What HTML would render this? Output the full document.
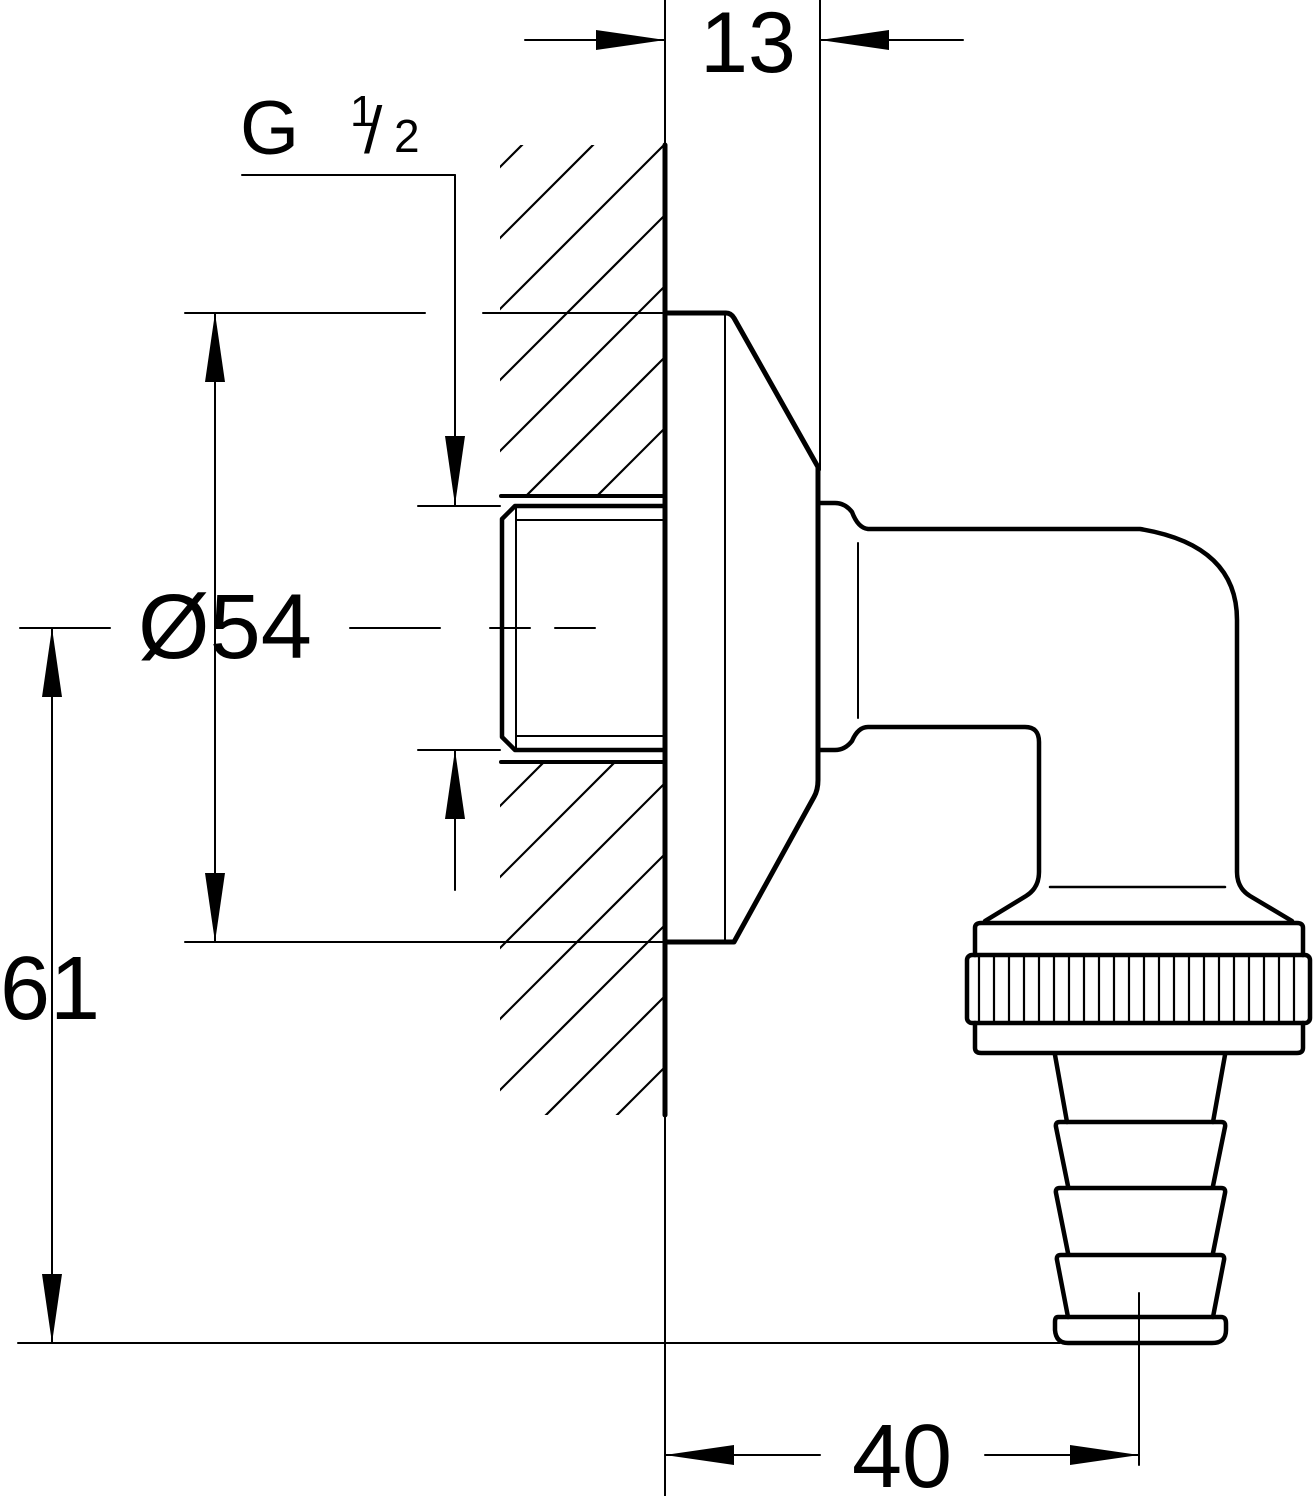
<!DOCTYPE html>
<html><head><style>html,body{margin:0;padding:0;background:#fff}svg{display:block}</style></head>
<body>
<svg width="1315" height="1496" viewBox="0 0 1315 1496" xmlns="http://www.w3.org/2000/svg" font-family="Liberation Sans, Arial, sans-serif">
<defs>
<clipPath id="hc"><path d="M500 145 H663 V496 H500 Z M500 762 H663 V1115 H500 Z"/></clipPath>
</defs>
<g stroke="#000" fill="none" stroke-linecap="round" stroke-linejoin="round">
<g clip-path="url(#hc)" stroke-width="2.2">
<line x1="400" y1="267" x2="700" y2="-33"/>
<line x1="400" y1="338" x2="700" y2="38"/>
<line x1="400" y1="409" x2="700" y2="109"/>
<line x1="400" y1="480" x2="700" y2="180"/>
<line x1="400" y1="551" x2="700" y2="251"/>
<line x1="400" y1="622" x2="700" y2="322"/>
<line x1="400" y1="693" x2="700" y2="393"/>
<line x1="400" y1="764" x2="700" y2="464"/>
<line x1="400" y1="835" x2="700" y2="535"/>
<line x1="400" y1="906" x2="700" y2="606"/>
<line x1="400" y1="977" x2="700" y2="677"/>
<line x1="400" y1="1048" x2="700" y2="748"/>
<line x1="400" y1="1119" x2="700" y2="819"/>
<line x1="400" y1="1190" x2="700" y2="890"/>
<line x1="400" y1="1261" x2="700" y2="961"/>
<line x1="400" y1="1332" x2="700" y2="1032"/>
<line x1="400" y1="1403" x2="700" y2="1103"/>
</g>
<line x1="665" y1="145" x2="665" y2="1115" stroke-width="5"/>
<line x1="665" y1="0" x2="665" y2="1496" stroke-width="2"/>
<line x1="820" y1="0" x2="820" y2="470" stroke-width="2"/>
<path d="M665 313 H726 Q731 313 734 318 L818 467 V780 Q818 790 814 797 L734 942 H665" stroke-width="5"/>
<line x1="725" y1="313" x2="725" y2="942" stroke-width="2"/>
<line x1="501" y1="496" x2="665" y2="496" stroke-width="4"/>
<line x1="501" y1="762" x2="665" y2="762" stroke-width="4"/>
<path d="M665 506 H515 L502 519 V737 L515 750 H665" stroke-width="4.5"/>
<line x1="516" y1="506" x2="516" y2="750" stroke-width="2"/>
<line x1="516" y1="520" x2="665" y2="520" stroke-width="2"/>
<line x1="516" y1="736" x2="665" y2="736" stroke-width="2"/>
<path d="M820 503 H835 Q845 503 852 512 Q858 528 868 529 H1140 Q1237 545 1237 620 V872 Q1237 888 1250 896 L1292 921" stroke-width="4.5"/>
<path d="M820 750 H835 Q845 750 852 741 Q858 727 868 727 H1025 Q1039 727 1039 742 V872 Q1039 888 1026 896 L985 921" stroke-width="4.5"/>
<line x1="858" y1="543" x2="858" y2="718" stroke-width="2"/>
<line x1="1050" y1="887" x2="1225" y2="887" stroke-width="2.5"/>
<path d="M975 955 V928 Q975 923 981 923 H1297 Q1303 923 1303 928 V955" stroke-width="4.5"/>
<path d="M975 1023 V1048 Q975 1053 981 1053 H1297 Q1303 1053 1303 1048 V1023" stroke-width="4.5"/>
<rect x="967" y="955" width="343" height="68" rx="5" stroke-width="4.5"/>
<g stroke-width="2.2">
<line x1="979" y1="955" x2="979" y2="1023"/><line x1="994" y1="955" x2="994" y2="1023"/><line x1="1009" y1="955" x2="1009" y2="1023"/><line x1="1024" y1="955" x2="1024" y2="1023"/><line x1="1039" y1="955" x2="1039" y2="1023"/><line x1="1054" y1="955" x2="1054" y2="1023"/><line x1="1069" y1="955" x2="1069" y2="1023"/><line x1="1084" y1="955" x2="1084" y2="1023"/><line x1="1099" y1="955" x2="1099" y2="1023"/><line x1="1114" y1="955" x2="1114" y2="1023"/><line x1="1129" y1="955" x2="1129" y2="1023"/><line x1="1144" y1="955" x2="1144" y2="1023"/><line x1="1159" y1="955" x2="1159" y2="1023"/><line x1="1174" y1="955" x2="1174" y2="1023"/><line x1="1189" y1="955" x2="1189" y2="1023"/><line x1="1204" y1="955" x2="1204" y2="1023"/><line x1="1219" y1="955" x2="1219" y2="1023"/><line x1="1234" y1="955" x2="1234" y2="1023"/><line x1="1249" y1="955" x2="1249" y2="1023"/><line x1="1264" y1="955" x2="1264" y2="1023"/><line x1="1279" y1="955" x2="1279" y2="1023"/><line x1="1294" y1="955" x2="1294" y2="1023"/>
</g>
<path d="M1055 1055 L1067 1122 M1225 1055 L1213 1122" stroke-width="4.5"/>
<path d="M1068 1186 L1056 1127 Q1055 1122 1060 1122 H1221 Q1226 1122 1225 1127 L1213 1186" stroke-width="4.5"/>
<path d="M1068 1253 L1056 1193 Q1055 1188 1060 1188 H1221 Q1226 1188 1225 1193 L1213 1253" stroke-width="4.5"/>
<path d="M1068 1317 L1057 1260 Q1056 1255 1061 1255 H1220 Q1225 1255 1224 1260 L1213 1317" stroke-width="4.5"/>
<path d="M1058 1317 H1221 Q1226 1317 1226 1323 V1330 Q1226 1343 1212 1343 H1068 Q1056 1343 1055 1330 V1322 Q1055 1317 1058 1317 Z" stroke-width="4.5"/>
<line x1="1139" y1="1293" x2="1139" y2="1465" stroke-width="2"/>
<g stroke-width="2">
<line x1="18" y1="1343" x2="1060" y2="1343"/>
<line x1="185" y1="313" x2="425" y2="313"/><line x1="483" y1="313" x2="665" y2="313"/>
<line x1="185" y1="942" x2="665" y2="942"/>
<line x1="215" y1="313" x2="215" y2="942"/>
<line x1="52" y1="628" x2="52" y2="1343"/>
<line x1="20" y1="628" x2="110" y2="628"/><line x1="350" y1="628" x2="440" y2="628"/><line x1="490" y1="628" x2="530" y2="628"/><line x1="555" y1="628" x2="595" y2="628"/>
<line x1="242" y1="175" x2="455" y2="175"/><line x1="455" y1="175" x2="455" y2="505"/>
<line x1="418" y1="506" x2="500" y2="506"/><line x1="418" y1="750" x2="500" y2="750"/>
<line x1="455" y1="750" x2="455" y2="890"/>
<line x1="525" y1="40" x2="665" y2="40"/><line x1="820" y1="40" x2="963" y2="40"/>
<line x1="665" y1="1455" x2="820" y2="1455"/><line x1="985" y1="1455" x2="1139" y2="1455"/>
</g>
</g>
<g fill="#000">
<polygon points="215,313 205,382 225,382"/>
<polygon points="215,942 205,873 225,873"/>
<polygon points="52,628 42,697 62,697"/>
<polygon points="52,1343 42,1274 62,1274"/>
<polygon points="455,505 445,436 465,436"/>
<polygon points="455,750 445,819 465,819"/>
<polygon points="665,40 596,30 596,50"/>
<polygon points="820,40 889,30 889,50"/>
<polygon points="665,1455 734,1445 734,1465"/>
<polygon points="1139,1455 1070,1445 1070,1465"/>
</g>
<g fill="#000">
<text x="748" y="72" font-size="86" text-anchor="middle">13</text>
<text x="240" y="154" font-size="76">G</text>
<text x="350" y="126" font-size="44">1</text>
<text x="364" y="153" font-size="66">/</text>
<text x="394" y="152" font-size="46">2</text>
<text x="225" y="658" font-size="92" text-anchor="middle">Ø54</text>
<text x="50" y="1019" font-size="90" text-anchor="middle">61</text>
<text x="902" y="1487" font-size="90" text-anchor="middle">40</text>
</g>
</svg>
</body></html>
